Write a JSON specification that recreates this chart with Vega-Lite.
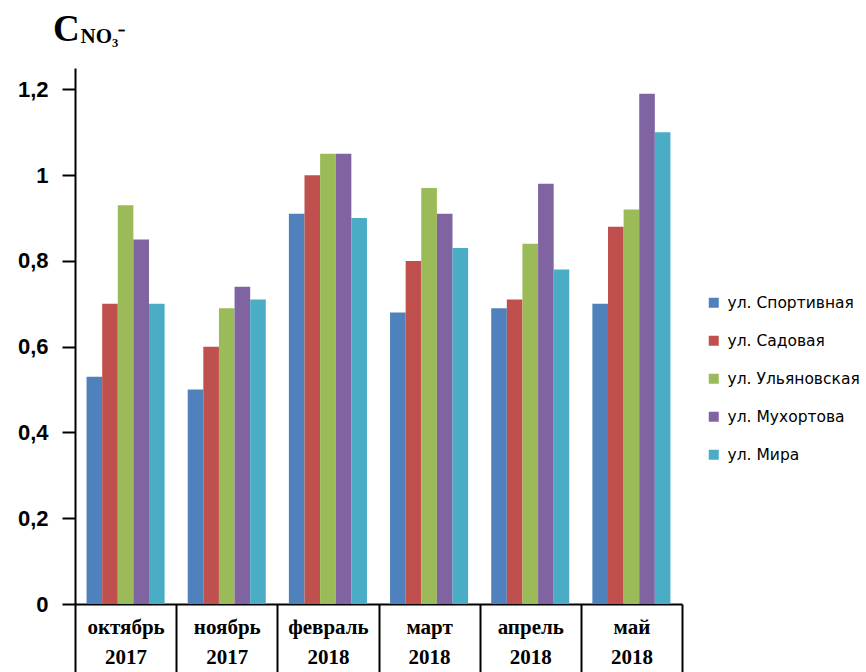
{
  "$schema": "https://vega.github.io/schema/vega-lite/v6.json",
  "width": 607,
  "height": 536,
  "autosize": {"type": "none"},
  "padding": {"left": 75, "top": 68, "right": 184, "bottom": 68},
  "background": "white",
  "title": {
    "text": "C",
    "anchor": "start",
    "frame": "group",
    "dx": -22,
    "dy": 38,
    "offset": -15,
    "baseline": "alphabetic",
    "font": "Liberation Serif",
    "fontWeight": "bold",
    "fontSize": 37,
    "color": "black"
  },
  "config": {"view": {"stroke": null}},
  "data": {
    "values": [
      {"month": "октябрь 2017", "street": "ул. Спортивная", "value": 0.53},
      {"month": "октябрь 2017", "street": "ул. Садовая", "value": 0.70},
      {"month": "октябрь 2017", "street": "ул. Ульяновская", "value": 0.93},
      {"month": "октябрь 2017", "street": "ул. Мухортова", "value": 0.85},
      {"month": "октябрь 2017", "street": "ул. Мира", "value": 0.70},
      {"month": "ноябрь 2017", "street": "ул. Спортивная", "value": 0.50},
      {"month": "ноябрь 2017", "street": "ул. Садовая", "value": 0.60},
      {"month": "ноябрь 2017", "street": "ул. Ульяновская", "value": 0.69},
      {"month": "ноябрь 2017", "street": "ул. Мухортова", "value": 0.74},
      {"month": "ноябрь 2017", "street": "ул. Мира", "value": 0.71},
      {"month": "февраль 2018", "street": "ул. Спортивная", "value": 0.91},
      {"month": "февраль 2018", "street": "ул. Садовая", "value": 1.00},
      {"month": "февраль 2018", "street": "ул. Ульяновская", "value": 1.05},
      {"month": "февраль 2018", "street": "ул. Мухортова", "value": 1.05},
      {"month": "февраль 2018", "street": "ул. Мира", "value": 0.90},
      {"month": "март 2018", "street": "ул. Спортивная", "value": 0.68},
      {"month": "март 2018", "street": "ул. Садовая", "value": 0.80},
      {"month": "март 2018", "street": "ул. Ульяновская", "value": 0.97},
      {"month": "март 2018", "street": "ул. Мухортова", "value": 0.91},
      {"month": "март 2018", "street": "ул. Мира", "value": 0.83},
      {"month": "апрель 2018", "street": "ул. Спортивная", "value": 0.69},
      {"month": "апрель 2018", "street": "ул. Садовая", "value": 0.71},
      {"month": "апрель 2018", "street": "ул. Ульяновская", "value": 0.84},
      {"month": "апрель 2018", "street": "ул. Мухортова", "value": 0.98},
      {"month": "апрель 2018", "street": "ул. Мира", "value": 0.78},
      {"month": "май 2018", "street": "ул. Спортивная", "value": 0.70},
      {"month": "май 2018", "street": "ул. Садовая", "value": 0.88},
      {"month": "май 2018", "street": "ул. Ульяновская", "value": 0.92},
      {"month": "май 2018", "street": "ул. Мухортова", "value": 1.19},
      {"month": "май 2018", "street": "ул. Мира", "value": 1.10}
    ]
  },
  "mark": {"type": "bar"},
  "encoding": {
    "x": {
      "field": "month",
      "type": "nominal",
      "sort": ["октябрь 2017", "ноябрь 2017", "февраль 2018", "март 2018", "апрель 2018", "май 2018"],
      "scale": {"paddingInner": 0, "paddingOuter": 0},
      "axis": {
        "title": null,
        "labelAngle": 0,
        "labelExpr": "datum.value ? split(datum.value, ' ') : ''",
        "labelFont": "Liberation Serif",
        "labelFontWeight": "bold",
        "labelFontSize": 21,
        "labelLineHeight": 30,
        "labelColor": "black",
        "labelBaseline": "top",
        "labelPadding": -56,
        "tickBand": "extent",
        "tickSize": 68,
        "tickWidth": 2,
        "tickColor": "black",
        "domainColor": "black",
        "domainWidth": 2,
        "grid": false
      }
    },
    "xOffset": {
      "field": "street",
      "type": "nominal",
      "sort": ["ул. Спортивная", "ул. Садовая", "ул. Ульяновская", "ул. Мухортова", "ул. Мира"],
      "scale": {"paddingInner": 0, "paddingOuter": 0.74}
    },
    "y": {
      "field": "value",
      "type": "quantitative",
      "scale": {"domain": [0, 1.25], "nice": false},
      "axis": {
        "values": [0, 0.2, 0.4, 0.6, 0.8, 1, 1.2],
        "labelExpr": "replace(format(datum.value, ''), '.', ',')",
        "grid": false,
        "labelFont": "Liberation Sans",
        "labelFontWeight": "bold",
        "labelFontSize": 22,
        "labelColor": "black",
        "labelPadding": 14,
        "tickSize": 13,
        "tickWidth": 2,
        "tickColor": "black",
        "domainColor": "black",
        "domainWidth": 2,
        "title": "NO₃⁻",
        "titleAngle": 0,
        "titleX": 5,
        "titleY": -26,
        "titleAlign": "left",
        "titleBaseline": "alphabetic",
        "titleFont": "Liberation Serif",
        "titleFontWeight": "bold",
        "titleFontSize": 21,
        "titleColor": "black"
      }
    },
    "color": {
      "field": "street",
      "type": "nominal",
      "sort": ["ул. Спортивная", "ул. Садовая", "ул. Ульяновская", "ул. Мухортова", "ул. Мира"],
      "scale": {"range": ["#4F81BD", "#C0504D", "#9BBB59", "#8064A2", "#4BACC6"]},
      "legend": {
        "title": null,
        "orient": "none",
        "legendX": 631,
        "legendY": 227,
        "symbolType": "square",
        "symbolSize": 100,
        "symbolStrokeWidth": 0,
        "labelFont": "DejaVu Sans",
        "labelFontSize": 15.5,
        "labelColor": "black",
        "labelOffset": 6,
        "rowPadding": 21
      }
    }
  }
}
